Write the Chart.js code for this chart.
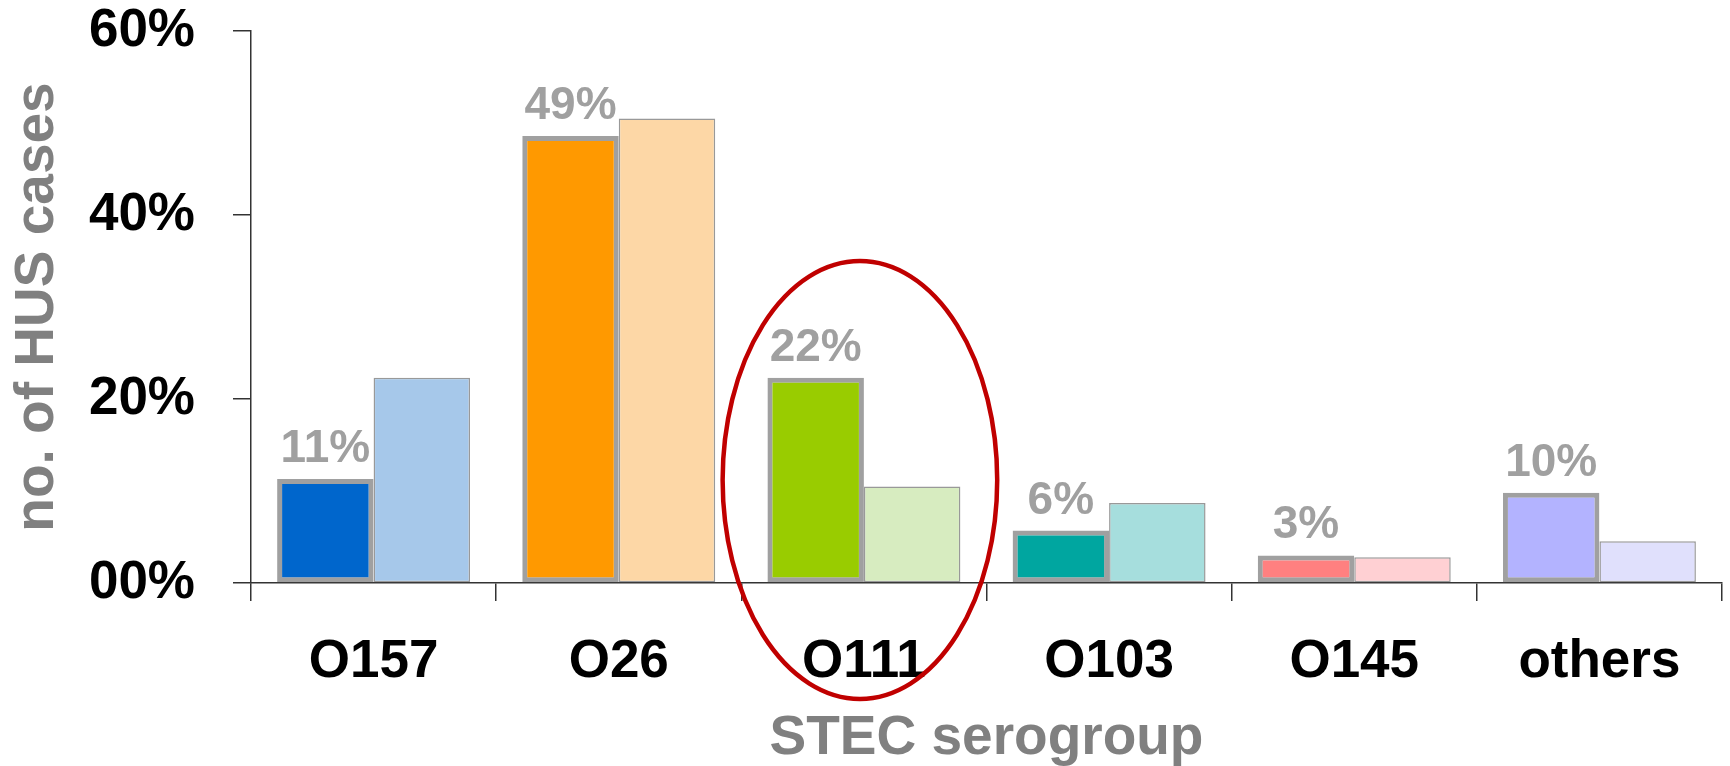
<!DOCTYPE html>
<html lang="en">
<head>
    <meta charset="UTF-8">
    <title>HUS cases by STEC serogroup</title>
    <script src="https://cdn.jsdelivr.net/npm/chart.js"></script>
    <style>
        body { margin: 0; background: #fff; }
        #box { width: 1730px; height: 766px; }
    </style>
</head>
<body>
    <div id="box">
        <canvas id="grafico" width="1730" height="766"></canvas>
    </div>

<script>
    // data
    const categorias = ['O157', 'O26', 'O111', 'O103', 'O145', 'others'];
    const surto = [11.3, 48.6, 22.3, 5.7, 3.0, 9.8];       // highlighted bars
    const referencia = [22.3, 50.5, 10.5, 8.7, 2.8, 4.55]; // pale bars
    const rotulos = ['11%', '49%', '22%', '6%', '3%', '10%'];
    const yTicks = [0, 20, 40, 60];
    const yTickLabels = ['00%', '20%', '40%', '60%'];

    const coresFortes = ['#0066CC', '#FF9900', '#99CC00', '#00A6A0', '#FF8080', '#B3B3FF'];
    const coresClaras = ['#A6C8EA', '#FDD7A6', '#D7ECC0', '#A6DEDD', '#FFD0D3', '#E0E0FC'];

    Chart.defaults.font.family = '"Liberation Sans", Arial, sans-serif';

    // percent labels above the highlighted bars
    const rotulosPlugin = {
        id: 'rotulos',
        afterDatasetsDraw(chart) {
            const ctx = chart.ctx;
            const meta = chart.getDatasetMeta(0);
            ctx.save();
            ctx.font = 'bold 46px "Liberation Sans", Arial, sans-serif';
            ctx.fillStyle = '#A0A0A0';
            ctx.textAlign = 'center';
            ctx.textBaseline = 'alphabetic';
            meta.data.forEach(function (bar, i) {
                ctx.fillText(rotulos[i], bar.x, bar.y - 17);
            });
            ctx.restore();
        }
    };

    // red ellipse around O111
    const elipsePlugin = {
        id: 'elipse',
        afterDraw(chart) {
            const x = chart.scales.x, y = chart.scales.y;
            const cx = x.getPixelForValue(2) - 4;
            const topo = y.getPixelForValue(35);
            const base = y.getPixelForValue(-12.6);
            const larg = (x.getPixelForValue(1) - x.getPixelForValue(0)) * 0.56;
            const ctx = chart.ctx;
            ctx.save();
            ctx.strokeStyle = '#C00000';
            ctx.lineWidth = 4.5;
            ctx.beginPath();
            ctx.ellipse(cx, (topo + base) / 2, larg, (base - topo) / 2, 0, 0, Math.PI * 2);
            ctx.stroke();
            ctx.restore();
        }
    };

    const dados = {
        labels: categorias,
        datasets: [{
            data: surto,
            backgroundColor: coresFortes,
            borderColor: '#A0A0A0',
            borderWidth: 5,
            borderSkipped: false
        },
        {
            data: referencia,
            backgroundColor: coresClaras,
            borderColor: '#999999',
            borderWidth: 1.5,
            borderSkipped: false
        }]
    };

    const config = {
        type: 'bar',
        data: dados,
        options: {
            responsive: false,
            animation: false,
            layout: { padding: { top: 31, right: 8, left: 0, bottom: 0 } },
            plugins: {
                legend: { display: false },
                tooltip: { enabled: false }
            },
            datasets: {
                bar: { categoryPercentage: 0.787, barPercentage: 1.0 }
            },
            scales: {
                x: {
                    grid: { drawOnChartArea: false, tickLength: 18, color: '#333', lineWidth: 1.5, offset: true },
                    border: { color: '#333', width: 1.5 },
                    ticks: { color: '#000', font: { size: 53, weight: 'bold' }, padding: 30 },
                    title: {
                        display: true, text: 'STEC serogroup', color: '#808080',
                        font: { size: 55, weight: 'bold', lineHeight: 1 }, padding: { top: 0, bottom: 0 }
                    },
                    afterFit: function (s) { s.height = 183; s.paddingLeft = 0; s.paddingRight = 0; }
                },
                y: {
                    min: 0, max: 60,
                    afterBuildTicks: function (s) { s.ticks = yTicks.map(function (v) { return { value: v }; }); },
                    grid: { drawOnChartArea: false, tickLength: 18, color: '#333', lineWidth: 1.5 },
                    border: { color: '#333', width: 1.5 },
                    ticks: {
                        color: '#000', font: { size: 53, weight: 'bold' }, padding: 38,
                        callback: function (v) { return yTickLabels[yTicks.indexOf(v)]; }
                    },
                    title: {
                        display: true, text: 'no. of HUS cases', color: '#808080',
                        font: { size: 55, weight: 'bold', lineHeight: 1 }, padding: { top: 10, bottom: 0 }
                    },
                    afterFit: function (s) { s.width = 251; s.paddingTop = 0; s.paddingBottom = 0; }
                }
            }
        },
        plugins: [rotulosPlugin, elipsePlugin]
    };

    new Chart(document.getElementById('grafico'), config);
</script>
</body>
</html>
